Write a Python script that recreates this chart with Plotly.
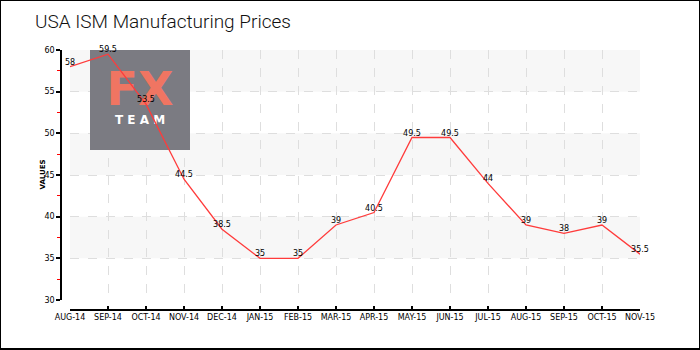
import plotly.graph_objects as go

months = ["AUG-14", "SEP-14", "OCT-14", "NOV-14", "DEC-14", "JAN-15", "FEB-15", "MAR-15",
          "APR-15", "MAY-15", "JUN-15", "JUL-15", "AUG-15", "SEP-15", "OCT-15", "NOV-15"]
values = [58, 59.5, 53.5, 44.5, 38.5, 35, 35, 39, 40.5, 49.5, 49.5, 44, 39, 38, 39, 35.5]
value_labels = ["58", "59.5", "53.5", "44.5", "38.5", "35", "35", "39",
                "40.5", "49.5", "49.5", "44", "39", "38", "39", "35.5"]
y_ticks = [30, 35, 40, 45, 50, 55, 60]
y_minor_ticks = [32.5, 37.5, 42.5, 47.5, 52.5, 57.5]
bands = [(55, 60), (45, 50), (35, 40)]

W, H = 700, 350
x_dom = [70 / W, 640 / W]
y_dom = [(H - 300) / H, (H - 50) / H]
idx = list(range(len(months)))
px_per_cat = 570 / (len(months) - 1)
px_per_unit = 250 / 30


def px_to_x(px):
    return (px - 70) / px_per_cat


def px_to_y(py):
    return 60 - (py - 50) / px_per_unit


tick_font = dict(family="DejaVu Sans", size=8, color="#000")

fig = go.Figure()

# watermark logo (decoration), drawn before the data line so the line sits on top
lx0, lx1 = px_to_x(90), px_to_x(190)
ly0, ly1 = px_to_y(150), px_to_y(50)
fig.add_trace(go.Scatter(
    x=[lx0, lx1, lx1, lx0, lx0], y=[ly0, ly0, ly1, ly1, ly0],
    mode="lines", fill="toself", fillcolor="#7b7b82", line=dict(width=0, color="#7b7b82"),
    hoverinfo="skip", showlegend=False,
))
fig.add_trace(go.Scatter(
    x=[px_to_x(140)], y=[px_to_y(93)], mode="text", text=["FX"], textposition="middle center",
    textfont=dict(family="DejaVu Sans", size=46, color="#f07562", weight="bold"),
    hoverinfo="skip", showlegend=False,
))
fig.add_trace(go.Scatter(
    x=[px_to_x(140)], y=[px_to_y(121)], mode="text", text=["T E A M"], textposition="middle center",
    textfont=dict(family="DejaVu Sans", size=12, color="#ffffff", weight="bold"),
    hoverinfo="skip", showlegend=False,
))

fig.add_trace(go.Scatter(
    x=idx, y=values, mode="lines+text",
    line=dict(color="#ff3b3b", width=1.3),
    text=value_labels, textposition="top center",
    textfont=dict(family="DejaVu Sans", size=8, color="#000"),
    cliponaxis=False, hoverinfo="skip", showlegend=False,
))

shapes = []
for lo, hi in bands:
    shapes.append(dict(type="rect", xref="x domain", yref="y", x0=0, x1=1, y0=lo, y1=hi,
                       fillcolor="#f7f7f7", line=dict(width=0), layer="below"))
# outer border
shapes.append(dict(type="rect", xref="paper", yref="paper", x0=0, x1=1, y0=0.003, y1=1,
                   line=dict(color="#000", width=2), fillcolor="rgba(0,0,0,0)", layer="above"))

annotations = [
    dict(text="USA ISM Manufacturing Prices", xref="paper", yref="paper", x=33 / W, y=(H - 22) / H,
         showarrow=False, font=dict(family="Roboto", size=19, color="#111", weight=300),
         xanchor="left", yanchor="middle"),
    dict(text="VALUES", xref="paper", yref="paper", x=42.5 / W, y=(H - 175) / H,
         showarrow=False, textangle=-90,
         font=dict(family="DejaVu Sans", size=7, color="#000", weight="bold"),
         xanchor="center", yanchor="middle"),
]

fig.update_layout(
    width=W, height=H,
    margin=dict(l=0, r=0, t=0, b=0, pad=0),
    paper_bgcolor="#ffffff", plot_bgcolor="#ffffff",
    shapes=shapes, annotations=annotations,
    xaxis=dict(
        domain=x_dom, anchor="free", position=(H - 310) / H, automargin=False,
        range=[0, len(months) - 1], tickvals=idx, ticktext=months,
        showline=True, linecolor="#000", linewidth=1.5,
        ticks="inside", ticklen=3, tickcolor="#000", tickwidth=1.5,
        showgrid=True, gridcolor="#dedede", griddash="dash", gridwidth=1,
        tickfont=tick_font, zeroline=False,
    ),
    yaxis=dict(
        domain=y_dom, anchor="free", position=61 / W, automargin=False,
        range=[30, 60], tickvals=y_ticks,
        showline=True, linecolor="#000", linewidth=1.5,
        ticks="outside", ticklen=4, tickcolor="#000", tickwidth=1.5,
        showgrid=True, gridcolor="#dedede", griddash="dash", gridwidth=1,
        tickfont=tick_font, zeroline=False,
        minor=dict(tickvals=y_minor_ticks, ticks="outside", ticklen=3,
                   tickcolor="#ff0000", tickwidth=1, showgrid=False),
    ),
)

fig.write_html("out.html", post_script="document.body.style.margin='0';document.body.style.overflow='hidden';")
